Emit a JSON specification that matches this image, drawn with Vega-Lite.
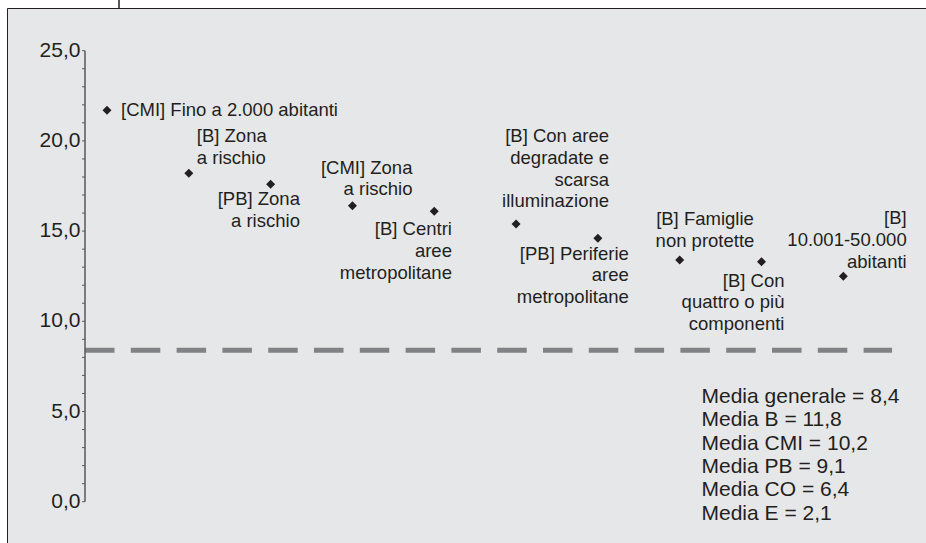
{
  "$schema": "https://vega.github.io/schema/vega-lite/v6.json",
  "autosize": {"type": "none"},
  "padding": {"left": 85, "top": 50.7, "right": 0, "bottom": 41.3},
  "width": 841,
  "height": 451,
  "background": "white",
  "config": {
    "view": {"fill": null, "stroke": null},
    "locale": {"number": {"decimal": ",", "thousands": ".", "grouping": [3], "currency": ["", " €"]}}
  },
  "datasets": {
    "points": [
      {"id": 1, "label": "[CMI] Fino a 2.000 abitanti", "value": 21.7},
      {"id": 2, "label": "[B] Zona\na rischio", "value": 18.2},
      {"id": 3, "label": "[PB] Zona\na rischio", "value": 17.6},
      {"id": 4, "label": "[CMI] Zona\na rischio", "value": 16.4},
      {"id": 5, "label": "[B] Centri\naree\nmetropolitane", "value": 16.1},
      {"id": 6, "label": "[B] Con aree\ndegradate e\nscarsa\nilluminazione", "value": 15.4},
      {"id": 7, "label": "[PB] Periferie\naree\nmetropolitane", "value": 14.6},
      {"id": 8, "label": "[B] Famiglie\nnon protette", "value": 13.4},
      {"id": 9, "label": "[B] Con\nquattro o più\ncomponenti", "value": 13.3},
      {"id": 10, "label": "[B]\n10.001-50.000\nabitanti", "value": 12.5}
    ],
    "means": [
      {"group": "generale", "value": 8.4},
      {"group": "B", "value": 11.8},
      {"group": "CMI", "value": 10.2},
      {"group": "PB", "value": 9.1},
      {"group": "CO", "value": 6.4},
      {"group": "E", "value": 2.1}
    ],
    "yticks": [
      {"v": 0}, {"v": 1}, {"v": 2}, {"v": 3}, {"v": 4}, {"v": 5}, {"v": 6}, {"v": 7}, {"v": 8}, {"v": 9},
      {"v": 10}, {"v": 11}, {"v": 12}, {"v": 13}, {"v": 14}, {"v": 15}, {"v": 16}, {"v": 17}, {"v": 18}, {"v": 19},
      {"v": 20}, {"v": 21}, {"v": 22}, {"v": 23}, {"v": 24}, {"v": 25}
    ]
  },
  "layer": [
    {
      "data": {"values": [{"x1": -0.2162, "x2": 12.5, "y1": 27.339, "y2": -3.5}]},
      "mark": {"type": "rect", "fill": "#e6e7e8", "stroke": "#231f20", "strokeWidth": 1},
      "encoding": {
        "x": {"field": "x1", "type": "quantitative", "axis": null, "scale": {"domain": [0.7311, 11.011], "nice": false, "zero": false}},
        "x2": {"field": "x2"},
        "y": {"field": "y1", "type": "quantitative", "axis": null, "scale": {"domain": [0, 25], "nice": false, "zero": false}},
        "y2": {"field": "y2"}
      }
    },
    {
      "data": {"values": [{"a": 27.339, "b": 28.5, "c": 1.1467}]},
      "mark": {"type": "rule", "color": "#231f20", "strokeWidth": 1.5},
      "encoding": {
        "x": {"field": "c", "type": "quantitative", "axis": null, "scale": {"domain": [0.7311, 11.011], "nice": false, "zero": false}},
        "y": {"field": "a", "type": "quantitative", "axis": null, "scale": {"domain": [0, 25], "nice": false, "zero": false}},
        "y2": {"field": "b"}
      }
    },
    {
      "data": {"name": "means"},
      "transform": [{"filter": "datum.group == 'generale'"}],
      "mark": {"type": "rule", "color": "#808285", "strokeWidth": 5, "strokeDash": [29.5, 16.3], "strokeCap": "butt"},
      "encoding": {
        "x": {"datum": 0.7311, "type": "quantitative", "axis": null, "scale": {"domain": [0.7311, 11.011], "nice": false, "zero": false}},
        "x2": {"datum": 10.596},
        "y": {"field": "value", "type": "quantitative", "axis": null, "scale": {"domain": [0, 25], "nice": false, "zero": false}}
      }
    },
    {
      "data": {"name": "yticks"},
      "mark": {"type": "rule", "color": "#58595b", "strokeWidth": 1},
      "encoding": {
        "x": {"datum": 0.6944, "type": "quantitative", "axis": null, "scale": {"domain": [0.7311, 11.011], "nice": false, "zero": false}},
        "x2": {"datum": 0.7311},
        "y": {"field": "v", "type": "quantitative", "axis": null, "scale": {"domain": [0, 25], "nice": false, "zero": false}}
      }
    },
    {
      "data": {"name": "yticks"},
      "transform": [{"filter": "datum.v % 5 == 0"}],
      "mark": {"type": "text", "align": "right", "baseline": "middle", "dx": -1.5, "font": "Liberation Sans", "fontSize": 21, "color": "#231f20"},
      "encoding": {
        "x": {"datum": 0.6944, "type": "quantitative", "axis": null, "scale": {"domain": [0.7311, 11.011], "nice": false, "zero": false}},
        "y": {"field": "v", "type": "quantitative", "axis": null, "scale": {"domain": [0, 25], "nice": false, "zero": false}},
        "text": {"field": "v", "type": "quantitative", "format": ".1f"}
      }
    },
    {
      "data": {"values": [{"a": 0, "b": 25}]},
      "mark": {"type": "rule", "color": "#58595b", "strokeWidth": 1.5},
      "encoding": {
        "x": {"datum": 0.7311, "type": "quantitative", "axis": null, "scale": {"domain": [0.7311, 11.011], "nice": false, "zero": false}},
        "y": {"field": "a", "type": "quantitative", "axis": null, "scale": {"domain": [0, 25], "nice": false, "zero": false}},
        "y2": {"field": "b"}
      }
    },
    {
      "data": {"name": "points"},
      "mark": {"type": "point", "shape": "diamond", "filled": true, "size": 81, "color": "#231f20", "opacity": 1, "strokeWidth": 0},
      "encoding": {
        "x": {"field": "id", "type": "quantitative", "axis": null,
              "scale": {"domain": [0.7311, 11.011], "nice": false, "zero": false}},
        "y": {"field": "value", "type": "quantitative", "axis": null,
              "scale": {"domain": [0, 25], "nice": false, "zero": false}}
      }
    },
    {
      "data": {"name": "points"},
      "layer": [
        {"transform": [{"filter": "datum.id == 1"}],
         "mark": {"type": "text", "align": "left", "baseline": "middle", "dx": 14, "dy": 0, "font": "Liberation Sans", "fontSize": 18.5, "lineHeight": 21.7, "lineBreak": "\n", "color": "#231f20"}},
        {"transform": [{"filter": "datum.id == 2"}],
         "mark": {"type": "text", "align": "left", "baseline": "top", "dx": 8, "dy": -46.4, "font": "Liberation Sans", "fontSize": 18.5, "lineHeight": 21.7, "lineBreak": "\n", "color": "#231f20"}},
        {"transform": [{"filter": "datum.id == 3"}],
         "mark": {"type": "text", "align": "right", "baseline": "top", "dx": 29.3, "dy": 5.9, "font": "Liberation Sans", "fontSize": 18.5, "lineHeight": 21.7, "lineBreak": "\n", "color": "#231f20"}},
        {"transform": [{"filter": "datum.id == 4"}],
         "mark": {"type": "text", "align": "right", "baseline": "top", "dx": 60, "dy": -47.1, "font": "Liberation Sans", "fontSize": 18.5, "lineHeight": 21.7, "lineBreak": "\n", "color": "#231f20"}},
        {"transform": [{"filter": "datum.id == 5"}],
         "mark": {"type": "text", "align": "right", "baseline": "top", "dx": 17.7, "dy": 9.2, "font": "Liberation Sans", "fontSize": 18.5, "lineHeight": 21.7, "lineBreak": "\n", "color": "#231f20"}},
        {"transform": [{"filter": "datum.id == 6"}],
         "mark": {"type": "text", "align": "right", "baseline": "top", "dx": 93, "dy": -96.5, "font": "Liberation Sans", "fontSize": 18.5, "lineHeight": 21.7, "lineBreak": "\n", "color": "#231f20"}},
        {"transform": [{"filter": "datum.id == 7"}],
         "mark": {"type": "text", "align": "right", "baseline": "top", "dx": 31, "dy": 6.2, "font": "Liberation Sans", "fontSize": 18.5, "lineHeight": 21.7, "lineBreak": "\n", "color": "#231f20"}},
        {"transform": [{"filter": "datum.id == 8"}],
         "mark": {"type": "text", "align": "center", "baseline": "top", "dx": 25.3, "dy": -50.1, "font": "Liberation Sans", "fontSize": 18.5, "lineHeight": 21.7, "lineBreak": "\n", "color": "#231f20"}},
        {"transform": [{"filter": "datum.id == 9"}],
         "mark": {"type": "text", "align": "right", "baseline": "top", "dx": 23, "dy": 9.9, "font": "Liberation Sans", "fontSize": 18.5, "lineHeight": 21.7, "lineBreak": "\n", "color": "#231f20"}},
        {"transform": [{"filter": "datum.id == 10"}],
         "mark": {"type": "text", "align": "right", "baseline": "top", "dx": 63.4, "dy": -66.8, "font": "Liberation Sans", "fontSize": 18.5, "lineHeight": 21.7, "lineBreak": "\n", "color": "#231f20"}}
      ],
      "encoding": {
        "x": {"field": "id", "type": "quantitative", "axis": null,
              "scale": {"domain": [0.7311, 11.011], "nice": false, "zero": false}},
        "y": {"field": "value", "type": "quantitative", "axis": null,
              "scale": {"domain": [0, 25], "nice": false, "zero": false}},
        "text": {"field": "label"}
      }
    },
    {
      "data": {"values": [{"x": 8.267, "y": 6.419, "text": "Media generale = 8,4\nMedia B = 11,8\nMedia CMI = 10,2\nMedia PB = 9,1\nMedia CO = 6,4\nMedia E = 2,1"}]},
      "mark": {"type": "text", "align": "left", "baseline": "top", "font": "Liberation Sans", "fontSize": 21, "lineHeight": 23.4, "lineBreak": "\n", "color": "#231f20"},
      "encoding": {
        "x": {"field": "x", "type": "quantitative", "axis": null, "scale": {"domain": [0.7311, 11.011], "nice": false, "zero": false}},
        "y": {"field": "y", "type": "quantitative", "axis": null, "scale": {"domain": [0, 25], "nice": false, "zero": false}},
        "text": {"field": "text"}
      }
    }
  ]
}
